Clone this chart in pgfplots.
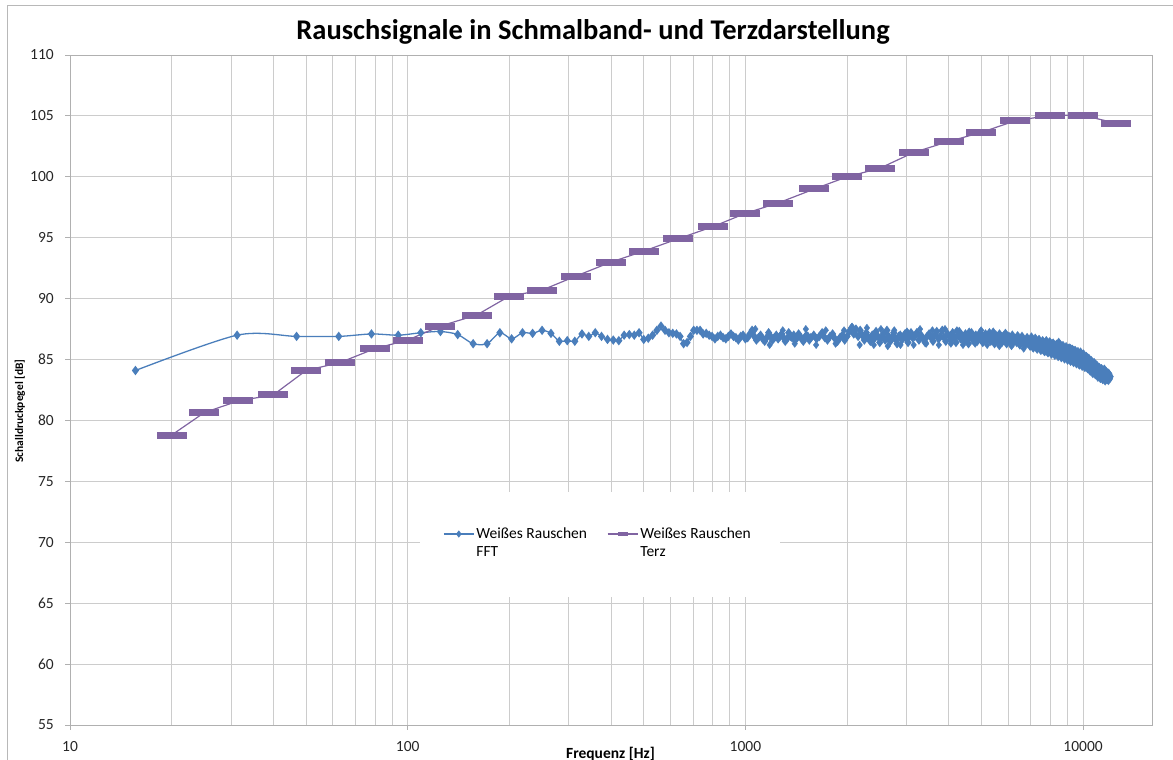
\documentclass[border=0pt]{standalone}
\usepackage{fontspec}
\setmainfont{Carlito}
\usepackage{pgfplots}
\usepackage{pgfplotstable}
\pgfplotsset{compat=1.18}
\definecolor{fftblue}{HTML}{4A7EBB}
\definecolor{terzpurple}{HTML}{8064A2}
\definecolor{gridgray}{HTML}{CCCCCC}
\definecolor{axisgray}{HTML}{B0B0B0}
\definecolor{framegray}{HTML}{B8B8B8}

\pgfplotstableread{
f db
15.625 84.1
31.25 87.0
46.875 86.9
62.5 86.9
78.125 87.1
93.75 87.0
109.375 87.2
125 87.3
140.625 87.05
156.25 86.3
171.875 86.3
187.5 87.2
203.125 86.7
218.75 87.2
234.375 87.15
250 87.4
265.625 87.15
281.25 86.5
296.875 86.55
312.5 86.5
328.125 87.1
343.75 86.9
359.375 87.2
375 86.9
390.625 86.65
406.25 86.6
421.875 86.55
437.5 87.0
453.125 87.05
468.75 87.0
484.375 87.2
500 86.65
515.625 86.75
531.25 87.0
546.875 87.4
562.5 87.75
578.125 87.4
593.75 87.2
609.375 87.15
625 87.1
640.625 86.9
656.25 86.3
671.875 86.4
687.5 86.9
703.125 87.4
718.75 87.4
734.375 87.4
750 87.1
765.625 87.15
781.25 87.0
796.875 86.9
812.5 86.7
828.125 86.9
843.75 87.0
859.375 86.8
875 86.7
890.625 86.9
906.25 87.1
921.875 86.9
937.5 86.8
953.125 86.6
968.75 86.9
984.375 87.0
1000 86.7
1015.625 86.8
1031.25 87.1
1046.875 87.4
1062.5 86.9
1078.125 86.6
1093.75 86.8
1109.375 87.0
1125 86.7
1140.625 86.5
1156.25 86.8
1171.875 87.2
1187.5 86.9
1203.125 86.6
1218.75 86.8
1234.375 87.0
1250 86.7
1265.625 86.9
1281.25 87.1
1296.875 86.8
1312.5 86.5
1328.125 86.7
1343.75 87.2
1359.375 86.9
1375 86.8
1390.625 87.0
1406.25 86.6
1421.875 86.8
1437.5 87.1
1453.125 86.9
1468.75 86.7
1484.375 86.5
1500 86.8
1515.625 87.0
1531.25 86.9
1546.875 86.6
1562.5 86.8
1593.75 87.0
1625 86.7
1656.25 86.9
1687.5 87.2
1718.75 86.8
1750 86.6
1781.25 86.9
1812.5 87.1
1843.75 86.7
1875 86.5
1906.25 86.8
1937.5 87.0
1968.75 86.6
2000 86.9
2031.25 87.3
2062.5 87.6
2093.75 87.1
2125 87.5
2156.25 86.9
2187.5 87.4
2218.75 87.0
2250 86.6
2281.25 87.2
2312.5 86.8
2343.75 86.5
2375 87.0
2406.25 86.7
2437.5 87.3
2468.75 86.9
2500 86.4
2531.25 86.8
2562.5 87.1
2593.75 86.6
2625 87.4
2656.25 86.9
2687.5 86.5
2718.75 86.8
2750 87.2
2781.25 86.7
2812.5 86.3
2843.75 86.9
2875 87.0
2906.25 86.6
2937.5 86.8
2968.75 87.1
3000 86.7
3031.25 86.4
3062.5 86.9
3093.75 87.2
3125 86.8
3171.875 86.9
3218.75 87.2
3265.625 86.6
3312.5 87.0
3359.375 86.7
3406.25 86.4
3453.125 86.9
3500 87.1
3546.875 86.8
3593.75 86.5
3640.625 87.0
3687.5 87.3
3734.375 86.7
3781.25 86.9
3828.125 87.4
3875 86.8
3921.875 86.5
3968.75 87.1
4015.625 86.9
4062.5 86.6
4109.375 87.2
4156.25 86.8
4203.125 86.4
4250 87.0
4296.875 87.3
4343.75 86.7
4390.625 86.9
4437.5 86.5
4484.375 87.1
4531.25 86.8
4578.125 86.3
4625 86.9
4671.875 87.2
4718.75 86.6
4765.625 86.8
4812.5 87.0
4859.375 86.5
4906.25 86.9
4953.125 87.2
5000 86.7
5046.875 86.4
5093.75 86.9
5140.625 87.1
5187.5 86.6
5234.375 86.8
5281.25 87.2
5328.125 86.5
5375 86.9
5421.875 86.7
5468.75 86.3
5515.625 87.0
5562.5 86.8
5609.375 86.5
5656.25 87.1
5703.125 86.7
5750 86.4
5796.875 86.9
5843.75 87.0
5890.625 86.6
5937.5 86.3
5984.375 86.8
6031.25 86.9
6078.125 86.5
6125 86.7
6171.875 87.0
6218.75 86.4
6265.625 86.6
6312.5 86.7
6359.375 86.4
6406.25 86.8
6453.125 86.5
6500 86.2
6546.875 86.6
6593.75 86.9
6640.625 86.4
6687.5 86.6
6734.375 86.2
6781.25 86.5
6828.125 86.8
6875 86.3
6921.875 86.5
6968.75 86.1
7015.625 86.6
7062.5 86.4
7109.375 86.0
7156.25 86.5
7203.125 86.3
7250 86.6
7296.875 86.1
7343.75 86.3
7390.625 86.5
7437.5 85.9
7484.375 86.2
7531.25 86.4
7578.125 86.0
7625 85.8
7671.875 86.3
7718.75 86.1
7765.625 85.7
7812.5 86.2
7859.375 86.4
7906.25 85.9
7953.125 86.1
8000 85.6
8046.875 86.0
8093.75 86.3
8140.625 85.8
8187.5 86.0
8234.375 85.5
8281.25 85.9
8328.125 86.2
8375 85.7
8421.875 85.9
8468.75 86.4
8515.625 85.6
8562.5 85.8
8609.375 86.1
8656.25 85.4
8703.125 85.8
8750 86.0
8796.875 85.5
8843.75 85.7
8890.625 85.2
8937.5 85.8
8984.375 85.5
9031.25 85.9
9078.125 85.3
9125 85.6
9171.875 85.9
9218.75 85.2
9265.625 85.5
9312.5 85.8
9359.375 85.1
9406.25 85.4
9453.125 85.7
9500 85.0
9546.875 85.3
9593.75 85.6
9640.625 85.1
9687.5 85.4
9734.375 84.9
9781.25 85.3
9828.125 85.6
9875 85.0
9921.875 85.2
9968.75 84.8
10015.625 85.3
10062.5 85.0
10109.375 84.7
10156.25 85.1
10203.125 84.8
10250 85.2
10296.875 84.6
10343.75 84.9
10390.625 85.1
10437.5 84.5
10484.375 84.8
10531.25 84.4
10578.125 84.9
10625 84.6
10671.875 84.2
10718.75 84.7
10765.625 84.4
10812.5 84.0
10859.375 84.6
10906.25 84.3
10953.125 84.5
11000 84.0
11046.875 84.4
11093.75 84.1
11140.625 83.8
11187.5 84.3
11234.375 84.0
11281.25 83.7
11328.125 84.2
11375 83.9
11421.875 84.1
11468.75 83.6
11515.625 83.9
11562.5 84.2
11609.375 83.5
11656.25 83.8
11703.125 84.0
11750 83.4
11796.875 83.7
11843.75 83.9
11890.625 83.3
11937.5 83.8
11984.375 83.5
12031.25 83.6
}\fftdata

% further FFT bins of the same series (scattered points in the dense band)
\pgfplotstableread{
f db
1070 87.5
1180 86.2
1290 87.4
1400 86.3
1510 87.5
1620 86.2
1730 87.4
1850 86.3
1960 87.4
2070 87.7
2180 86.2
2290 87.6
2400 86.2
2520 87.5
2640 86.1
2760 87.4
2880 86.2
3010 87.3
3150 86.2
3290 87.5
3430 86.3
3580 87.4
3740 86.2
3900 87.5
4060 86.3
4230 87.4
4410 86.2
4600 87.3
4790 86.3
4990 87.4
5200 86.2
5420 87.3
5650 86.1
5890 87.2
6140 86.1
6400 87.0
6670 85.9
7031.25 86.9
7125 85.9
7218.75 86.8
7312.5 85.8
7406.25 86.7
7500 85.7
7593.75 86.6
7687.5 85.6
7781.25 86.6
7875 85.5
7968.75 86.5
8062.5 85.4
8156.25 86.4
8250 85.3
8343.75 86.3
8437.5 85.2
8531.25 86.3
8625 85.1
8718.75 86.2
8812.5 85.0
8906.25 86.1
9000 84.9
9093.75 86.0
9187.5 84.8
9281.25 85.9
9375 84.7
9468.75 85.8
9562.5 84.6
9656.25 85.7
9750 84.5
9843.75 85.6
9937.5 84.4
10031.25 85.5
10125 84.3
10218.75 85.3
10312.5 84.2
10406.25 85.1
10500 84.0
10593.75 84.9
10687.5 83.8
10781.25 84.8
10875 83.7
10968.75 84.6
11062.5 83.5
11156.25 84.4
11250 83.4
11343.75 84.3
11437.5 83.3
11531.25 84.2
11625 83.2
11718.75 84.0
11812.5 83.3
11906.25 83.9
12000 83.4
}\fftextra

\pgfplotstableread{
f db
20 78.8
25 80.65
31.5 81.6
40 82.1
50 84.1
63 84.75
80 85.9
100 86.6
125 87.75
160 88.65
200 90.2
250 90.7
315 91.85
400 93.0
500 93.9
630 94.9
800 95.9
1000 97.0
1250 97.85
1600 99.0
2000 100.0
2500 100.7
3150 102.0
4000 102.9
5000 103.65
6300 104.6
8000 105.05
10000 105.05
12500 104.4
}\terzdata

\begin{document}
\begin{tikzpicture}
\useasboundingbox (0pt,0pt) rectangle (1173pt,760pt);
\draw[framegray, line width=0.9pt] (7.3pt,0pt) -- (7.3pt,754.3pt) -- (1173pt,754.3pt);
\begin{axis}[
  at={(70pt,35pt)}, anchor=south west,
  scale only axis, width=1082pt, height=670pt,
  xmode=log, log basis x=10,
  xmin=10, xmax=16000, ymin=55, ymax=110,
  xtick={10,100,1000,10000}, xticklabels={10,100,1000,10000},
  minor xtick={20,30,40,50,60,70,80,90,200,300,400,500,600,700,800,900,2000,3000,4000,5000,6000,7000,8000,9000},
  ytick={55,60,65,70,75,80,85,90,95,100,105,110},
  xmajorgrids, xminorgrids, ymajorgrids,
  major grid style={gridgray, line width=0.9pt},
  minor grid style={gridgray, line width=0.9pt},
  axis line style={axisgray, line width=0.9pt},
  tick align=outside, major tick length=5pt, minor tick length=0pt,
  tick pos=left,
  tick style={axisgray, line width=0.9pt},
  /pgf/number format/assume math mode=true,
  tick label style={font=\fontsize{15.5}{18}\selectfont, text=black!85},
  xticklabel style={inner sep=0pt, anchor=north, yshift=-11.7pt},
  yticklabel style={inner sep=0pt, anchor=east, xshift=-11pt},
  legend columns=2,
  legend cell align=left,
  legend style={at={(0.4880,0.2716)}, anchor=center, draw=none, fill=none,
    inner sep=0pt, font=\fontsize{15.5}{18.5}\selectfont, cells={align=left},
    /tikz/every even column/.append style={column sep=18pt}},
]
\fill[white] (rel axis cs:0.3235,0.191) rectangle (rel axis cs:0.6562,0.3478);
\addplot[fftblue, line width=1.3pt, smooth, mark=diamond*, mark size=3.7pt,
  mark options={solid, fill=fftblue, draw=fftblue},
  legend image code/.code={
    \draw[fftblue, line width=1.3pt] (0pt,9pt) -- (30pt,9pt);
    \draw[fftblue, mark=diamond*, mark size=2.6pt, mark options={solid, fill=fftblue}] plot coordinates {(15pt,9pt)};
  }] table[x=f, y=db] {\fftdata};
\addlegendentry{Weißes Rauschen\\FFT}
\addplot[forget plot, only marks, fftblue, mark=diamond*, mark size=3.7pt,
  mark options={solid, fill=fftblue, draw=fftblue}] table[x=f, y=db] {\fftextra};
\addplot[terzpurple, line width=1.2pt, mark=-, mark size=15pt,
  mark options={solid, line width=7pt, draw=terzpurple},
  legend image code/.code={
    \draw[terzpurple, line width=1.3pt] (0pt,9pt) -- (30pt,9pt);
    \draw[terzpurple, mark=-, mark size=5pt, mark options={solid, line width=4pt}] plot coordinates {(15pt,9pt)};
  }] table[x=f, y=db] {\terzdata};
\addlegendentry{Weißes Rauschen\\Terz}
\end{axis}
\node[anchor=base, font=\bfseries\fontsize{28.5}{32}\selectfont] at (593pt,720.7pt) {Rauschsignale in Schmalband- und Terzdarstellung};
\node[rotate=90, font=\bfseries\fontsize{11.5}{14}\selectfont] at (20pt,349pt) {Schalldruckpegel [dB]};
\node[anchor=base, font=\bfseries\fontsize{15.5}{18}\selectfont] at (610.5pt,1.7pt) {Frequenz [Hz]};
\end{tikzpicture}
\end{document}
